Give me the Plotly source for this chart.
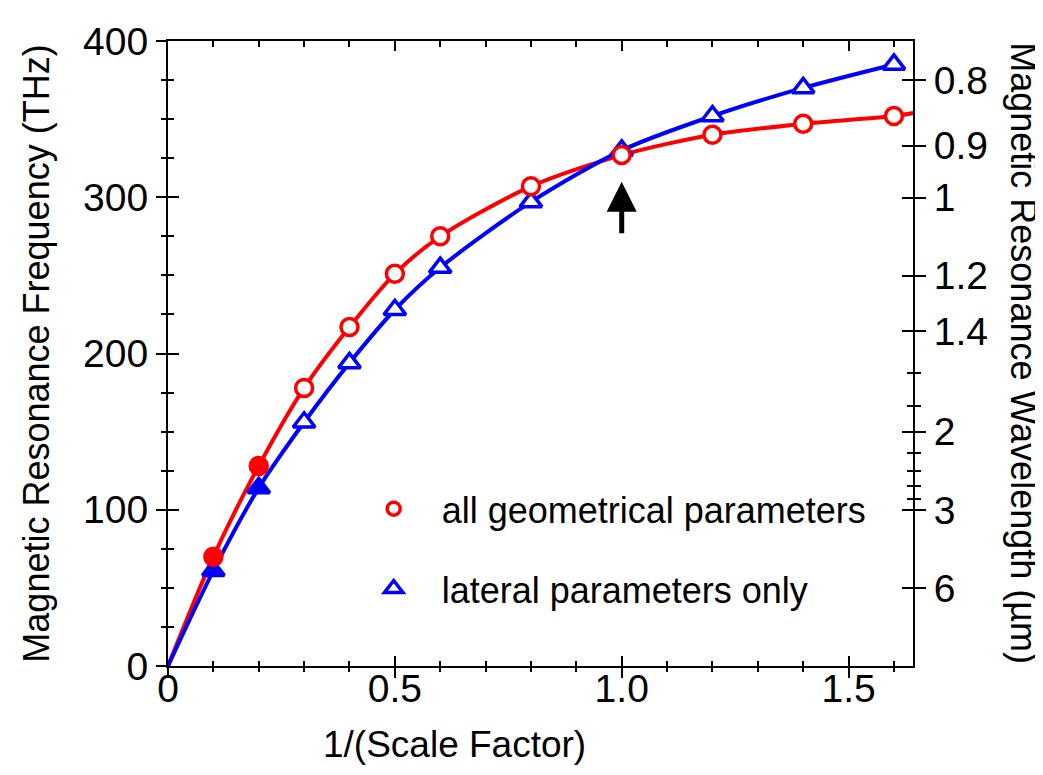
import plotly.graph_objects as go

# ---------------- data ----------------
C_UM_THZ = 299.79  # speed of light in um*THz

inv_scale = [0.1, 0.2, 0.3, 0.4, 0.5, 0.6, 0.8, 1.0, 1.2, 1.4, 1.6]

all_geom_freq = [70, 128, 178, 217, 251, 275, 307, 327, 340, 347, 352]
all_geom_filled = [True, True, False, False, False, False, False, False, False, False, False]
all_geom_line_x = [0, 0.1, 0.2, 0.3, 0.4, 0.5, 0.6, 0.8, 1.0, 1.2, 1.4, 1.6, 1.645]
all_geom_line_y = [0, 70, 128, 178, 217, 251, 275, 307, 327, 340, 347, 352, 354]

lateral_freq = [61, 114, 156, 194, 228, 255, 297, 330, 352, 370, 385]
lateral_filled = [True, True, False, False, False, False, False, False, False, False, False]
lateral_line_x = [0, 0.1, 0.2, 0.3, 0.4, 0.5, 0.6, 0.8, 1.0, 1.2, 1.4, 1.6]
lateral_line_y = [0, 61, 114, 156, 194, 228, 255, 297, 330, 352, 370, 385]

x_tick_vals = [0, 0.5, 1.0, 1.5]
x_tick_text = ["0", "0.5", "1.0", "1.5"]
y_tick_vals = [0, 100, 200, 300, 400]

wl_major = [0.8, 0.9, 1, 1.2, 1.4, 2, 3, 6]
wl_major_text = ["0.8", "0.9", "1", "1.2", "1.4", "2", "3", "6"]
wl_minor = [1.6, 1.8, 2.2, 2.4, 2.6, 2.8]

arrow_x = 1.0
arrow_head_y = 310
arrow_tail_y = 276

legend_names = ["all geometrical parameters", "lateral parameters only"]

RED = "#FF0000"
BLUE = "#0000FF"
FONT = "Liberation Sans, Arial, sans-serif"

X_RANGE = [0, 1.642]
Y_RANGE = [0, 400]

wl_major_freq = [C_UM_THZ / w for w in wl_major]
wl_minor_freq = [C_UM_THZ / w for w in wl_minor]

fig = go.Figure()

# curves
fig.add_trace(go.Scatter(x=all_geom_line_x, y=all_geom_line_y, mode="lines",
                         line=dict(color=RED, width=4, shape="spline", smoothing=0.8),
                         showlegend=False, hoverinfo="skip"))
fig.add_trace(go.Scatter(x=lateral_line_x, y=lateral_line_y, mode="lines",
                         line=dict(color=BLUE, width=4, shape="spline", smoothing=0.8),
                         showlegend=False, hoverinfo="skip"))
# markers
fig.add_trace(go.Scatter(x=inv_scale, y=lateral_freq, mode="markers",
                         marker=dict(symbol="triangle-up", size=19,
                                     color=[BLUE if f else "white" for f in lateral_filled],
                                     line=dict(color=BLUE, width=3.5)),
                         showlegend=False))
fig.add_trace(go.Scatter(x=inv_scale, y=all_geom_freq, mode="markers",
                         marker=dict(symbol="circle", size=17,
                                     color=[RED if f else "white" for f in all_geom_filled],
                                     line=dict(color=RED, width=3.5)),
                         showlegend=False))
# legend entries
fig.add_trace(go.Scatter(x=[None], y=[None], mode="markers", name=legend_names[0],
                         legendgroup="a",
                         marker=dict(symbol="circle", size=13, color="white",
                                     line=dict(color=RED, width=3.5))))
fig.add_trace(go.Scatter(x=[None], y=[None], mode="markers", name=legend_names[1],
                         legendgroup="b",
                         marker=dict(symbol="triangle-up", size=16, color="white",
                                     line=dict(color=BLUE, width=3.5))))

# helper empty traces so that the overlay axes are drawn
for xa, ya in [("x2", "y2"), ("x3", "y3"), ("x2", "y4")]:
    fig.add_trace(go.Scatter(x=[None], y=[None], xaxis=xa, yaxis=ya,
                             showlegend=False, hoverinfo="skip"))

common = dict(showgrid=False, zeroline=False, tickcolor="black", tickwidth=2,
              linecolor="black", linewidth=2)
tickfont = dict(family=FONT, size=39, color="black")

fig.update_layout(
    # page body has an 8 px margin, so the figure is 8 px smaller than the window
    width=1035, height=767,
    margin=dict(l=160, r=130, t=23, b=109),
    paper_bgcolor="white", plot_bgcolor="white",
    xaxis=dict(range=X_RANGE, side="bottom", anchor="y", showline=True,
               tickmode="array", tickvals=x_tick_vals, ticktext=x_tick_text,
               ticks="inside", ticklen=10, tickfont=tickfont, ticklabelstandoff=-13,
               minor=dict(dtick=0.1, tick0=0, ticks="inside", ticklen=5,
                          tickwidth=2, tickcolor="black", showgrid=False),
               **common),
    xaxis2=dict(range=X_RANGE, overlaying="x", side="bottom", anchor="y",
                showline=False, showticklabels=False,
                tickmode="array", tickvals=x_tick_vals,
                ticks="outside", ticklen=11,
                minor=dict(dtick=0.1, tick0=0, ticks="outside", ticklen=5,
                           tickwidth=2, tickcolor="black", showgrid=False),
                **common),
    xaxis3=dict(range=X_RANGE, overlaying="x", side="top", anchor="y",
                showline=True, showticklabels=False,
                tickmode="array", tickvals=x_tick_vals,
                ticks="inside", ticklen=10,
                minor=dict(dtick=0.1, tick0=0, ticks="inside", ticklen=6,
                           tickwidth=2, tickcolor="black", showgrid=False),
                **common),
    yaxis=dict(range=Y_RANGE, side="left", anchor="x", showline=True,
               tickmode="array", tickvals=y_tick_vals,
               ticks="outside", ticklen=10, tickfont=tickfont,
               minor=dict(dtick=25, tick0=0, ticks="outside", ticklen=5,
                          tickwidth=2, tickcolor="black", showgrid=False),
               **common),
    yaxis3=dict(range=Y_RANGE, overlaying="y", side="left", anchor="x",
                showline=False, showticklabels=False,
                tickmode="array", tickvals=y_tick_vals,
                ticks="inside", ticklen=11,
                minor=dict(dtick=25, tick0=0, ticks="inside", ticklen=6,
                           tickwidth=2, tickcolor="black", showgrid=False),
                **common),
    yaxis2=dict(range=Y_RANGE, overlaying="y", side="right", anchor="x",
                showline=True,
                tickmode="array", tickvals=wl_major_freq, ticktext=wl_major_text,
                ticks="outside", ticklen=11, tickfont=tickfont,
                minor=dict(tickmode="array", tickvals=wl_minor_freq,
                           ticks="outside", ticklen=6,
                           tickwidth=2, tickcolor="black", showgrid=False),
                **common),
    yaxis4=dict(range=Y_RANGE, overlaying="y", side="right", anchor="x",
                showline=False, showticklabels=False,
                tickmode="array", tickvals=wl_major_freq,
                ticks="inside", ticklen=11,
                minor=dict(tickmode="array", tickvals=wl_minor_freq,
                           ticks="inside", ticklen=6,
                           tickwidth=2, tickcolor="black", showgrid=False),
                **common),
    legend=dict(x=0.2385, y=0.2995, xanchor="left", yanchor="top",
                bgcolor="rgba(0,0,0,0)", borderwidth=0,
                font=dict(family=FONT, size=36, color="black"),
                itemwidth=86, tracegroupgap=30),
    showlegend=True,
    annotations=[
        dict(text="Magnetic Resonance Frequency (THz)", xref="paper", yref="paper",
             x=-0.177, y=0.5, xanchor="center", yanchor="middle", textangle=-90,
             showarrow=False, font=dict(family=FONT, size=36, color="black")),
        dict(text="Magnetic Resonance Wavelength (\u00b5m)", xref="paper", yref="paper",
             x=1.148, y=0.5, xanchor="center", yanchor="middle", textangle=90,
             showarrow=False, font=dict(family=FONT, size=36, color="black")),
        dict(text="1/(Scale Factor)", xref="paper", yref="paper",
             x=0.385, y=-0.125, xanchor="center", yanchor="middle",
             showarrow=False, font=dict(family=FONT, size=37, color="black")),
        dict(text="", x=arrow_x, y=arrow_head_y, ax=arrow_x, ay=arrow_tail_y,
             xref="x", yref="y", axref="x", ayref="y", showarrow=True,
             arrowhead=2, arrowsize=1.2, arrowwidth=5, arrowcolor="black"),
    ],
)

fig.write_html("out.html")
